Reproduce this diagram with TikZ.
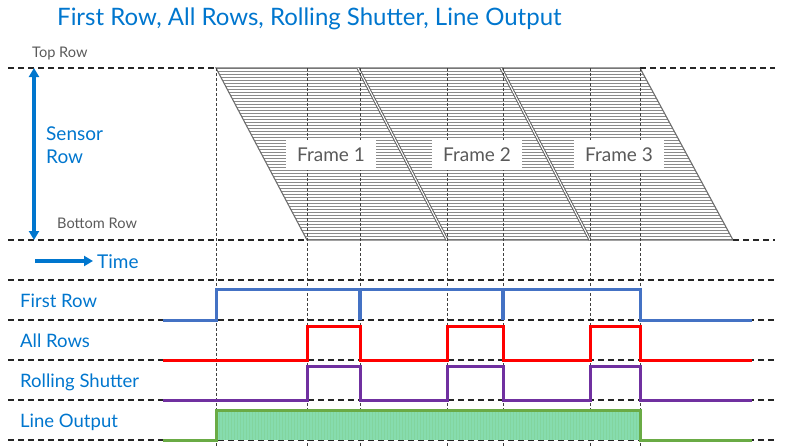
\documentclass[tikz,border=0pt]{standalone}
\usepackage{fontspec}
\setmainfont{Lato}
\usepackage{tikz}
\usetikzlibrary{arrows.meta}
\definecolor{DellBlue}{HTML}{0076CE}
\definecolor{FirstBlue}{HTML}{4472C4}
\definecolor{AllRed}{HTML}{FF0000}
\definecolor{ShutterPurple}{HTML}{7030A0}
\definecolor{OutGreen}{HTML}{6AAB45}
\definecolor{OutFill}{HTML}{86DCAE}
\definecolor{HatchGrey}{HTML}{8A8A8A}
\definecolor{LabelGrey}{HTML}{5A5A5A}

\begin{document}
\begin{tikzpicture}[x=1pt, y=-1pt,
  gridline/.style={black!85, line width=1.4pt, dash pattern=on 6pt off 4pt},
  tickline/.style={black!75, line width=0.8pt, dash pattern=on 3pt off 2pt},
  hatch/.style={HatchGrey, line width=0.7pt},
  frameedge/.style={HatchGrey!80!black, line width=1.1pt},
  framesplit/.style={draw=HatchGrey!70!black, double=white, double distance=1pt, line width=1pt},
  signal/.style={line width=3pt, line join=miter},
  bluearrow/.style={DellBlue, line width=3.5pt, -{Triangle[length=9pt,width=10pt]}},
  rowlabel/.style={anchor=base west, inner sep=0pt, text=DellBlue, font=\fontsize{18.5}{20}\selectfont},
  greylabel/.style={anchor=base west, inner sep=0pt, text=LabelGrey, font=\fontsize{14.6}{16}\selectfont},
  framelabel/.style={fill=white, text=LabelGrey, minimum width=90pt, minimum height=30pt,
    text height=13.5pt, text depth=0pt, font=\fontsize{19}{21}\selectfont}]
  \useasboundingbox (0,0) rectangle (790,447);

  % Title
  \node[anchor=base west, inner sep=0pt, text=DellBlue, font=\fontsize{24}{27}\selectfont]
    (title) at (57,25) {First Row, All Rows, Rolling Shutter, Line Output};

  % Frames: hatched rows between top and bottom row
  \begin{scope}
    \clip (216,68) -- (640,68) -- (733,240) -- (307,240) -- cycle;
    \foreach \y in {68,71,...,240}
      \draw[hatch] (200,\y) -- (760,\y);
  \end{scope}
  \draw[frameedge] (216,68) -- (640,68) -- (733,240) -- (307,240) -- cycle;
  \draw[framesplit] (358,68) -- (447,240);
  \draw[framesplit] (501,68) -- (590,240);

  % Time marks
  \foreach \x in {216,307,360,447,503,590,640}
    \draw[tickline] (\x,68) -- (\x,447);

  % Row lines
  \draw[gridline] (8,68) -- (216,68);
  \draw[gridline] (640,68) -- (775,68);
  \draw[gridline] (8,240) -- (307,240);
  \draw[gridline] (733,240) -- (775,240);
  \foreach \y in {280,320,...,440}
    \draw[gridline] (8,\y) -- (775,\y);

  % Frame labels
  \node[framelabel] (frame1) at (331,155) {Frame 1};
  \node[framelabel] (frame2) at (477,155) {Frame 2};
  \node[framelabel] (frame3) at (619,155) {Frame 3};

  % Sensor axis
  \node[greylabel] (toprow) at (32,57) {Top Row};
  \node[greylabel] (bottomrow) at (57,228) {Bottom Row};
  \node[rowlabel, font=\fontsize{19}{23}\selectfont, align=left, anchor=base west]
    (sensor) at (46,163) {Sensor\\Row};
  \coordinate (rowmid) at (34,154);
  \coordinate (rowtop) at (34,68);
  \coordinate (rowbot) at (34,240);
  \draw[bluearrow] (rowmid) -- (rowtop);
  \draw[bluearrow] (rowmid) -- (rowbot);

  % Time axis
  \node[rowlabel, font=\fontsize{19}{21}\selectfont] (time) at (97,268) {Time};
  \coordinate (timestart) at (35,261);
  \draw[bluearrow] (timestart) -- ([xshift=-4pt]time.west |- timestart);

  % Signal names
  \node[rowlabel] (firstrow) at (20,307) {First Row};
  \node[rowlabel] (allrows) at (20,347) {All Rows};
  \node[rowlabel] (shutter) at (20,387) {Rolling Shutter};
  \node[rowlabel] (lineout) at (20,427) {Line Output};

  % First Row
  \draw[signal, FirstBlue] (163,320) -- (216,320) -- (216,289) -- (640,289)
    -- (640,320) -- (752,320);
  \draw[signal, FirstBlue, line width=4pt] (360,289) -- (360,320);
  \draw[signal, FirstBlue, line width=4pt] (503,289) -- (503,320);

  % All Rows
  \draw[signal, AllRed] (163,360) -- (307,360) -- (307,326) -- (360,326)
    -- (360,360) -- (447,360) -- (447,326) -- (503,326) -- (503,360)
    -- (590,360) -- (590,326) -- (640,326) -- (640,360) -- (752,360);

  % Rolling Shutter
  \draw[signal, ShutterPurple] (163,400) -- (307,400) -- (307,366) -- (360,366)
    -- (360,400) -- (447,400) -- (447,366) -- (503,366) -- (503,400)
    -- (590,400) -- (590,366) -- (640,366) -- (640,400) -- (752,400);

  % Line Output
  \fill[OutFill] (216,410) rectangle (640,440);
  \foreach \x in {219,222,...,638}
    \draw[OutFill!85!OutGreen, line width=0.5pt] (\x,410) -- (\x,440);
  \draw[signal, OutGreen] (163,440) -- (216,440) -- (216,410) -- (640,410)
    -- (640,440) -- (752,440);
\end{tikzpicture}
\end{document}
